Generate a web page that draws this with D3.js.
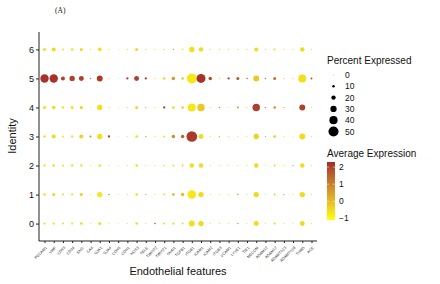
<!DOCTYPE html>
<html><head><meta charset="utf-8">
<script src="https://cdn.jsdelivr.net/npm/d3@7"></script>
<style>body{margin:0;background:#fff}svg{display:block;font-family:"Liberation Sans",Arial,sans-serif}</style>
</head><body><svg id="c" width="440" height="284"></svg>
<script>
const features=["PECAM1","VWF","CD93","CD34","ENG","CA4","GJA1","GJA4","CDH5","CDH1","NOS3","SELE","TWIST2","TWIST1","SNAI1","TGFB1","ITGB1","ICAM1","ICAM2","ITGB3","VCAM1","LYVE1","TIE1","MECOM","ADAM12","ADAM17","ADAMTS13","ADAMTS18","THBD","ACE"];
const identities=["0","1","2","3","4","5","6"];
const pct0=[8,9,7,8,10,3,13,3,2,3,10,3,5,7,9,7,28,25,3,3,3,5,3,23,3,7,3,3,23,3];
const pct1=[10,13,8,9,13,3,25,5,2,3,10,4,3,7,10,15,42,25,3,3,3,5,3,25,3,7,3,3,25,3];
const pct2=[9,10,7,9,9,3,10,3,2,3,10,3,3,5,7,7,21,20,3,3,3,3,3,20,3,7,3,3,20,3];
const pct3=[10,18,7,9,18,7,25,9,2,3,10,4,3,7,15,15,53,23,3,4,3,3,3,25,3,10,3,2,28,3];
const pct4=[13,15,9,13,13,3,25,3,2,3,13,4,3,9,10,10,39,36,3,4,3,7,3,36,4,10,3,2,28,3];
const pct5=[41,41,18,25,23,5,28,4,2,9,23,9,4,10,15,10,49,44,15,4,9,13,5,28,5,13,4,3,39,7];
const pct6=[13,18,7,10,13,4,16,3,2,3,13,3,3,4,4,5,25,20,3,3,3,3,3,18,3,7,3,3,20,3];
const avg0=[-0.6,-0.6,-0.6,-0.6,-0.5,-0.8,-0.6,-0.6,null,-0.6,-0.5,-0.6,1.8,-0.5,-0.5,-0.5,-0.6,-0.5,-0.6,-0.6,-0.6,0.5,-0.6,-0.5,-0.6,-0.4,-0.6,-0.6,-0.5,-0.6];
const avg1=[-0.6,-0.5,-0.6,-0.6,-0.4,-0.8,-0.7,0.8,null,-0.6,-0.5,0.5,-0.6,-0.5,0.3,0.0,-0.7,-0.5,-0.6,-0.6,-0.6,0.5,-0.6,-0.5,-0.6,-0.4,1.0,-0.6,-0.5,-0.6];
const avg2=[-0.6,-0.6,-0.6,-0.6,-0.5,-0.8,-0.6,-0.6,null,-0.6,-0.5,-0.6,-0.6,-0.5,-0.5,-0.4,-0.6,-0.5,-0.6,-0.6,-0.6,-0.6,-0.6,-0.5,-0.6,-0.4,-0.6,1.0,-0.5,-0.6];
const avg3=[-0.6,-0.5,-0.6,-0.6,-0.4,0.8,-0.6,2.0,null,-0.6,-0.5,0.5,-0.6,-0.5,0.8,1.5,2.1,-0.5,-0.6,0.0,-0.6,-0.6,-0.6,-0.4,0.8,-0.2,-0.6,-0.6,-0.5,-0.6];
const avg4=[-0.6,-0.5,-0.6,-0.6,-0.4,-0.8,-0.6,-0.6,null,-0.6,-0.5,0.0,-0.6,1.8,-0.4,-0.3,-0.7,-0.2,-0.6,1.0,-0.6,0.6,-0.6,2.0,0.8,0.8,1.0,-0.6,2.0,-0.6];
const avg5=[2.2,2.2,2.0,2.0,2.0,1.2,2.1,-0.6,null,2.0,2.0,2.0,-0.6,-0.4,0.6,-0.2,-0.7,2.2,1.9,-0.6,1.9,1.6,1.5,-0.2,1.2,1.2,-0.6,-0.4,-0.6,1.8];
const avg6=[-0.6,-0.5,-0.6,-0.6,-0.5,-0.8,-0.6,-0.6,null,-0.6,-0.5,-0.6,-0.6,-0.5,0.4,-0.5,-0.6,-0.5,-0.6,-0.6,-0.6,-0.6,-0.6,-0.5,-0.6,-0.5,-0.6,-0.6,-0.5,-0.6];
const pctRows=[pct0,pct1,pct2,pct3,pct4,pct5,pct6];
const avgRows=[avg0,avg1,avg2,avg3,avg4,avg5,avg6];
const sizeBreaks=[0,10,20,30,40,50];
const colorBreaks=[-1,0,1,2];

const svg=d3.select("#c");
const L=39,R=317,T=32,B=241;
const x=d3.scalePoint().domain(features).range([L,R]).padding(0.6);
const y=d3.scalePoint().domain(identities).range([B,T]).padding(0.6);
const r=d3.scaleLinear().domain([0,50]).range([0.3,5.05]);
const col=d3.scaleLinear().domain([-1.1,2.3]).range(["#FFFF00","#A52A2A"]).interpolate(d3.interpolateLab).clamp(true);

const data=[];
identities.forEach((id,i)=>features.forEach((f,j)=>data.push({id,f,p:pctRows[i][j],a:avgRows[i][j]})));
svg.append("g").selectAll("circle").data(data).join("circle")
 .attr("cx",d=>x(d.f)).attr("cy",d=>y(d.id)).attr("r",d=>r(d.p))
 .attr("fill",d=>d.a==null?"#BEBEBE":col(d.a));

const yAx=svg.append("g").attr("transform",`translate(${L},0)`).call(d3.axisLeft(y).tickSize(3).tickPadding(2));
yAx.select(".domain").attr("d",`M0,${T}V${B}`).attr("stroke","#222").attr("stroke-width",1);
yAx.selectAll("text").attr("font-size",9).attr("fill","#111");
yAx.selectAll(".tick line").attr("stroke","#222");

const xAx=svg.append("g").attr("transform",`translate(0,${B})`).call(d3.axisBottom(x).tickSize(2).tickPadding(1));
xAx.select(".domain").attr("d",`M${L},0H${R}`).attr("stroke","#222").attr("stroke-width",1);
xAx.selectAll(".tick line").attr("stroke","#222");
xAx.selectAll("text").attr("font-size",3.8).attr("fill","#333")
 .attr("text-anchor","end").attr("dy",0).attr("transform","translate(0,5) rotate(-45)");

svg.append("text").attr("x",178).attr("y",275).attr("text-anchor","middle").attr("font-size",11).attr("fill","#111").text("Endothelial features");
svg.append("text").attr("transform","translate(16,136) rotate(-90)").attr("text-anchor","middle").attr("font-size",11).attr("fill","#111").text("Identity");
svg.append("text").attr("x",55).attr("y",13).attr("font-family","'Liberation Serif',serif").attr("font-size",7.5).attr("fill","#111").text("(A)");

// size legend
const lg=svg.append("g");
lg.append("text").attr("x",327).attr("y",64).attr("font-size",10).attr("fill","#111").text("Percent Expressed");
const ls=d3.scalePoint().domain(sizeBreaks).range([75,131.5]);
sizeBreaks.forEach(b=>{
 lg.append("circle").attr("cx",333.5).attr("cy",ls(b)).attr("r",r(b)).attr("fill","#000");
 lg.append("text").attr("x",345).attr("y",ls(b)+3).attr("font-size",8.5).attr("fill","#111").text(b);
});
// color legend
lg.append("text").attr("x",327).attr("y",157).attr("font-size",10).attr("fill","#111").text("Average Expression");
const cy=d3.scaleLinear().domain([-1.1,2.3]).range([220,162]);
const defs=svg.append("defs");
const gr=defs.append("linearGradient").attr("id","g").attr("x1",0).attr("x2",0).attr("y1",1).attr("y2",0);
d3.range(0,1.01,0.1).forEach(t=>gr.append("stop").attr("offset",t).attr("stop-color",col(-1.1+t*3.4)));
lg.append("rect").attr("x",327).attr("y",162).attr("width",8).attr("height",58).attr("fill","url(#g)");
colorBreaks.forEach(b=>{
 lg.append("line").attr("x1",327).attr("x2",329).attr("y1",cy(b)).attr("y2",cy(b)).attr("stroke","#fff").attr("stroke-width",0.5);
 lg.append("line").attr("x1",333).attr("x2",335).attr("y1",cy(b)).attr("y2",cy(b)).attr("stroke","#fff").attr("stroke-width",0.5);
 lg.append("text").attr("x",339).attr("y",cy(b)+3).attr("font-size",8.5).attr("fill","#111").text(b<0?"\u2212"+Math.abs(b):b);
});
</script></body></html>
